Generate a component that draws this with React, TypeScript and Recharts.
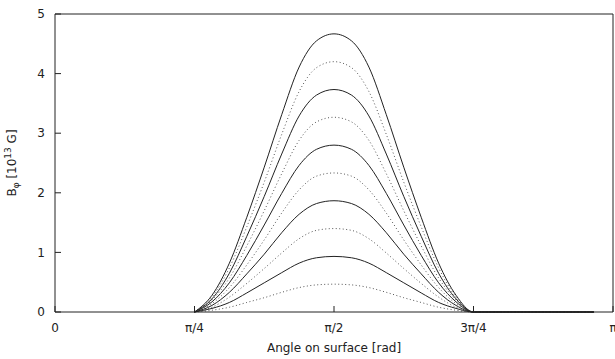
import React from "react";
import { LineChart, Line, XAxis, YAxis } from "recharts";

// angle on surface, in units of pi
const theta = [
  0.25, 0.28125, 0.3125, 0.34375, 0.375, 0.40625, 0.4375, 0.46875, 0.5,
  0.53125, 0.5625, 0.59375, 0.625, 0.65625, 0.6875, 0.71875, 0.75, 0.966,
];

// B_phi [1e13 G] (weakest to strongest)
const b1 = [0, 0.03, 0.08, 0.16, 0.24, 0.33, 0.41, 0.455, 0.467, 0.455, 0.41, 0.33, 0.24, 0.16, 0.08, 0.03, 0, 0];
const b2 = [0, 0.06, 0.16, 0.32, 0.49, 0.66, 0.82, 0.91, 0.933, 0.91, 0.82, 0.66, 0.49, 0.32, 0.16, 0.06, 0, 0];
const b3 = [0, 0.08, 0.25, 0.48, 0.73, 0.99, 1.23, 1.37, 1.4, 1.37, 1.23, 0.99, 0.73, 0.48, 0.25, 0.08, 0, 0];
const b4 = [0, 0.11, 0.33, 0.64, 0.97, 1.33, 1.64, 1.82, 1.867, 1.82, 1.64, 1.33, 0.97, 0.64, 0.33, 0.11, 0, 0];
const b5 = [0, 0.14, 0.41, 0.79, 1.21, 1.66, 2.05, 2.28, 2.333, 2.28, 2.05, 1.66, 1.21, 0.79, 0.41, 0.14, 0, 0];
const b6 = [0, 0.17, 0.49, 0.95, 1.46, 1.99, 2.46, 2.73, 2.8, 2.73, 2.46, 1.99, 1.46, 0.95, 0.49, 0.17, 0, 0];
const b7 = [0, 0.2, 0.57, 1.11, 1.7, 2.32, 2.88, 3.19, 3.267, 3.19, 2.88, 2.32, 1.7, 1.11, 0.57, 0.2, 0, 0];
const b8 = [0, 0.22, 0.65, 1.27, 1.94, 2.65, 3.29, 3.64, 3.733, 3.64, 3.29, 2.65, 1.94, 1.27, 0.65, 0.22, 0, 0];
const b9 = [0, 0.25, 0.74, 1.43, 2.18, 2.98, 3.7, 4.1, 4.2, 4.1, 3.7, 2.98, 2.18, 1.43, 0.74, 0.25, 0, 0];
const b10 = [0, 0.28, 0.82, 1.59, 2.43, 3.31, 4.11, 4.55, 4.667, 4.55, 4.11, 3.31, 2.43, 1.59, 0.82, 0.28, 0, 0];

const curves = [b1, b2, b3, b4, b5, b6, b7, b8, b9, b10];

const xTicks = [0, 0.25, 0.5, 0.75, 1];
const xTickLabels = ["0", "π/4", "π/2", "3π/4", "π"];
const yTicks = [0, 1, 2, 3, 4, 5];

const rows = theta.map((t, i) => {
  const row: Record<string, number> = { theta: t };
  curves.forEach((c, k) => {
    row[`b${k + 1}`] = c[i];
  });
  return row;
});

const FONT = "'DejaVu Sans', sans-serif";
const INK = "#222";
const tickStyle = { fill: INK, fontSize: 12, fontFamily: FONT };

const YLabel = (props: any) => {
  const vb = props.viewBox || {};
  const cx = 16;
  const cy = vb.y + vb.height / 2;
  return (
    <text
      x={cx}
      y={cy}
      transform={`rotate(-90 ${cx} ${cy})`}
      textAnchor="middle"
      fill={INK}
      fontSize={12}
      fontFamily={FONT}
    >
      B
      <tspan fontSize={9} dy={3}>φ</tspan>
      <tspan dy={-3}> [10</tspan>
      <tspan fontSize={9} dy={-5}>13</tspan>
      <tspan dy={5}> G]</tspan>
    </text>
  );
};

const XLabel = (props: any) => {
  const vb = props.viewBox || {};
  return (
    <text
      x={vb.x + vb.width / 2}
      y={vb.y + 40}
      textAnchor="middle"
      fill={INK}
      fontSize={12}
      fontFamily={FONT}
    >
      Angle on surface [rad]
    </text>
  );
};

export default function App() {
  return (
    <div style={{ position: "absolute", left: 0, top: 0 }}>
      <LineChart
        width={615}
        height={359}
        data={rows}
        margin={{ top: 13, right: 1, bottom: 0, left: 0 }}
      >
        <XAxis
          dataKey="theta"
          type="number"
          domain={[0, 1]}
          ticks={xTicks}
          interval={0}
          tickFormatter={(v: number) => xTickLabels[xTicks.indexOf(v)]}
          height={47}
          tickSize={-6}
          tickMargin={17}
          stroke={INK}
          tick={tickStyle}
          label={{ content: XLabel }}
        />
        <XAxis
          xAxisId="top"
          orientation="top"
          type="number"
          domain={[0, 1]}
          ticks={xTicks}
          interval={0}
          height={1}
          tickSize={-6}
          stroke={INK}
          tick={false}
        />
        <YAxis
          type="number"
          domain={[0, 5]}
          ticks={yTicks}
          interval={0}
          width={55}
          tickSize={-6}
          tickMargin={16}
          stroke={INK}
          tick={tickStyle}
          label={{ content: YLabel }}
        />
        <YAxis
          yAxisId="right"
          orientation="right"
          type="number"
          domain={[0, 5]}
          ticks={yTicks}
          interval={0}
          width={1}
          tickSize={-6}
          stroke={INK}
          tick={false}
        />
        {curves.map((_, k) => (
          <Line
            key={k}
            type="monotone"
            dataKey={`b${k + 1}`}
            stroke={k % 2 === 0 ? "#555" : "#222"}
            strokeWidth={1}
            strokeDasharray={k % 2 === 0 ? "1 2.5" : undefined}
            dot={false}
            activeDot={false}
            isAnimationActive={false}
          />
        ))}
      </LineChart>
    </div>
  );
}
